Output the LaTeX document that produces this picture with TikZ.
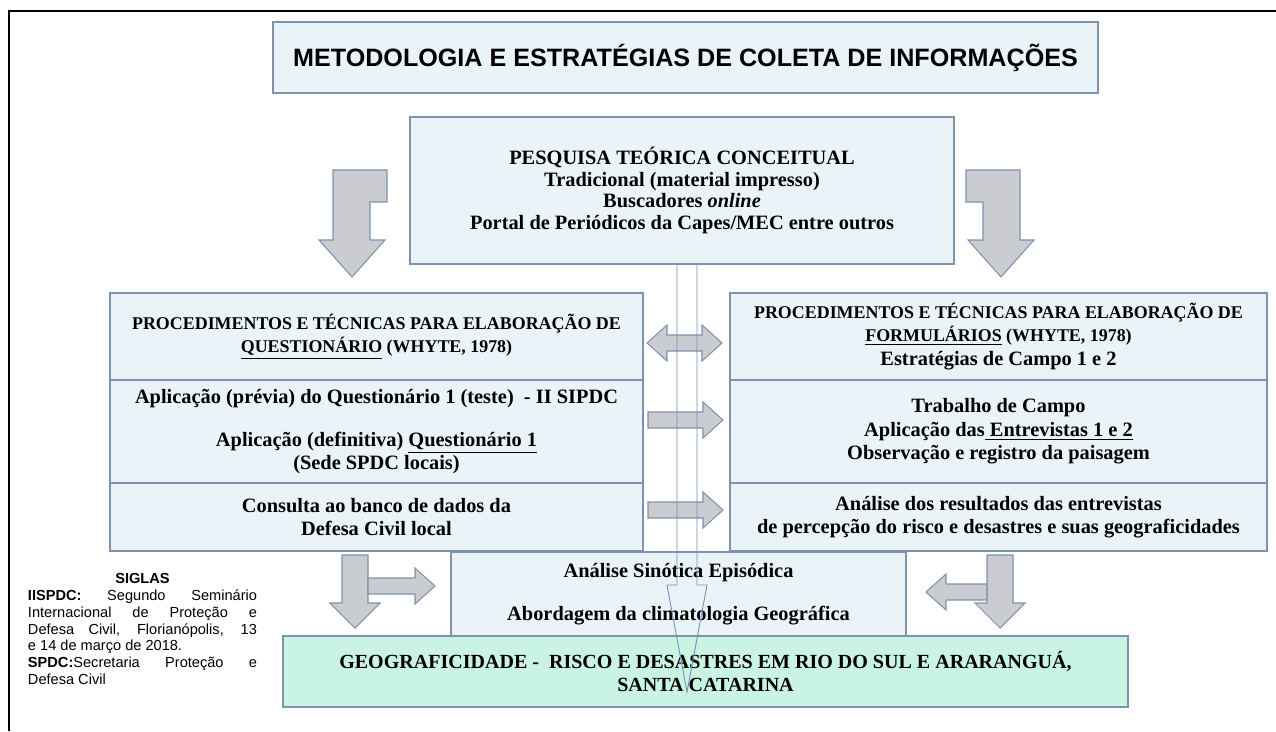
\documentclass[tikz,border=0pt]{standalone}
\usepackage{fontspec}
\setmainfont{Liberation Serif}
\setsansfont{Liberation Sans}
\definecolor{fundo}{HTML}{EAF4F8}
\definecolor{borda}{HTML}{7E93AD}
\definecolor{verde}{HTML}{C9F3E3}
\definecolor{cinza}{HTML}{CBCCD1}
\definecolor{fina}{HTML}{6F8FBF}

\tikzset{
	caixa/.style={draw=borda, fill=fundo, line width=0.8pt, inner sep=0pt, align=center,
		font=\bfseries\fontsize{11.6}{13.3}\selectfont},
	bloco/.style={draw=borda, fill=cinza, line width=0.6pt, line join=miter},
}
\newcommand{\maiusc}{\fontsize{10.2}{13.3}\selectfont}
% setas em bloco (coordenadas em pixels)
\newcommand{\setadir}[3]{\draw[bloco] (#1,#3-8) -- (#2-20,#3-8) -- (#2-20,#3-18) -- (#2,#3) -- (#2-20,#3+18) -- (#2-20,#3+8) -- (#1,#3+8) -- cycle;}
\newcommand{\setaesq}[3]{\draw[bloco] (#2,#3-8) -- (#1+20,#3-8) -- (#1+20,#3-18) -- (#1,#3) -- (#1+20,#3+18) -- (#1+20,#3+8) -- (#2,#3+8) -- cycle;}
\newcommand{\setabaixo}[3]{\draw[bloco] (#1-13,#2) -- (#1+13,#2) -- (#1+13,#3-25) -- (#1+25,#3-25) -- (#1,#3) -- (#1-25,#3-25) -- (#1-13,#3-25) -- cycle;}

\begin{document}
\begin{tikzpicture}[x=0.2mm,y=-0.2mm]
	\useasboundingbox (0,0) rectangle (1276,731);
	\draw[line width=1.4pt] (9,731) -- (9,11) -- (1276,11);%moldura

	\node[caixa, minimum width=165mm, minimum height=14.2mm, font=\sffamily\bfseries\fontsize{14.3}{16}\selectfont] (titulo) at (685.5,57.5) {METODOLOGIA E ESTRATÉGIAS DE COLETA DE INFORMAÇÕES};
	\node[caixa, minimum width=108.8mm, minimum height=29.4mm, font=\bfseries\fontsize{11.6}{12.3}\selectfont] (pesquisa) at (682,190.5) {PESQUISA TEÓRICA CONCEITUAL\\ Tradicional (material impresso)\\ Buscadores \textit{online}\\ Portal de Periódicos da Capes/MEC entre outros};

	% coluna esquerda
	\node[caixa, minimum width=106.6mm, minimum height=17.4mm] (quest) at (376.5,336.5) {\maiusc PROCEDIMENTOS E TÉCNICAS PARA ELABORAÇÃO DE\\ \maiusc\underline{QUESTIONÁRIO} (WHYTE, 1978)};
	\node[caixa, minimum width=106.6mm, minimum height=20.6mm] (aplic) at (376.5,431.5) {Aplicação (prévia) do Questionário 1 (teste)~~- II SIPDC\\[11pt] Aplicação (definitiva) \underline{Questionário 1}\\ (Sede SPDC locais)};
	\node[caixa, minimum width=106.6mm, minimum height=13.6mm] (consulta) at (376.5,517) {Consulta ao banco de dados da\\ Defesa Civil local};

	% coluna direita
	\node[caixa, minimum width=107.4mm, minimum height=17.4mm] (form) at (998.5,336.5) {\maiusc PROCEDIMENTOS E TÉCNICAS PARA ELABORAÇÃO DE\\ \maiusc\underline{FORMULÁRIOS} (WHYTE, 1978)\\ Estratégias de Campo 1 e 2};
	\node[caixa, minimum width=107.4mm, minimum height=20.6mm] (campo) at (998.5,431.5) {Trabalho de Campo\\ Aplicação das\underline{ Entrevistas 1 e 2}\\ Observação e registro da paisagem};
	\node[caixa, minimum width=107.4mm, minimum height=13.6mm] (analise) at (998.5,517) {Análise dos resultados das entrevistas\\ de percepção do risco e desastres e suas geograficidades};

	\node[caixa, minimum width=91mm, minimum height=16.8mm] (sinotica) at (678.5,594) {Análise Sinótica Episódica\\[11pt] Abordagem da climatologia Geográfica};
	\node[caixa, fill=verde, minimum width=169mm, minimum height=14.2mm, font=\bfseries\fontsize{11.4}{13}\selectfont] (geo) at (705.5,671.5) {GEOGRAFICIDADE -~~RISCO E DESASTRES EM RIO DO SUL E ARARANGUÁ,\\ SANTA CATARINA};

	\node[text width=45.8mm, align=justify, inner sep=0pt, font=\sffamily\fontsize{8.3}{9.5}\selectfont] (siglas) at (142.5,629) {\makebox[\linewidth]{\bfseries SIGLAS}\\ \textbf{IISPDC:} Segundo Seminário\linebreak Internacional de Proteção e\linebreak Defesa Civil, Florianópolis, 13\linebreak e 14 de março de 2018.\\ \textbf{SPDC:}Secretaria Proteção e\linebreak Defesa Civil};

	% setas
	\draw[bloco] (333,170) -- (387,170) -- (387,202) -- (370,202) -- (370,240) -- (385,240) -- (352,277) -- (319,240) -- (333,240) -- cycle;
	\draw[bloco] (1020,170) -- (966,170) -- (966,202) -- (983,202) -- (983,240) -- (968,240) -- (1001,277) -- (1034,240) -- (1020,240) -- cycle;
	\draw[bloco] (647,343) -- (667,325) -- (667,335) -- (702,335) -- (702,325) -- (722,343) -- (702,361) -- (702,351) -- (667,351) -- (667,361) -- cycle;
	\setadir{648}{723}{420}
	\setadir{648}{723}{510}
	\setabaixo{355}{555}{628}
	\setadir{368}{435}{586}
	\setabaixo{1000}{555}{628}
	\setaesq{926}{987}{592}
	\draw[fina, line width=0.5pt] (677,264) -- (677,585) -- (667,585) -- (687,692) -- (707,585) -- (697,585) -- (697,264);
\end{tikzpicture}
\end{document}
